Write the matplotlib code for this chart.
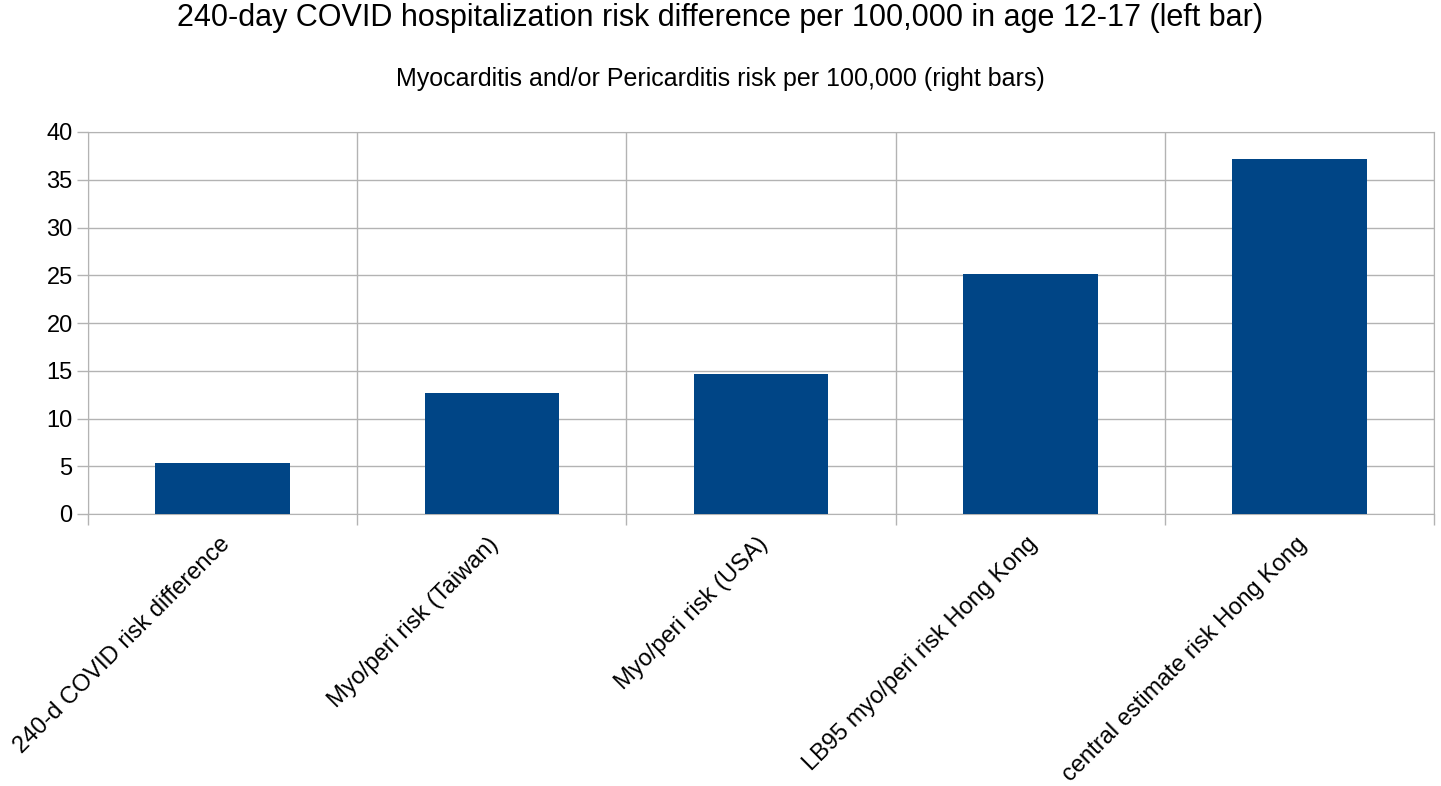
import matplotlib
matplotlib.use("Agg")
import matplotlib.pyplot as plt

categories = [
    "240-d COVID risk difference",
    "Myo/peri risk (Taiwan)",
    "Myo/peri risk (USA)",
    "LB95 myo/peri risk Hong Kong",
    "central estimate risk Hong Kong",
]
risk_per_100k = [5.3, 12.7, 14.7, 25.1, 37.2]
y_ticks = [0, 5, 10, 15, 20, 25, 30, 35, 40]

plt.rcParams["font.family"] = ["Liberation Sans", "DejaVu Sans"]

fig = plt.figure(figsize=(14.41, 7.86), dpi=100)
ax = fig.add_axes([88 / 1441, 1 - 514 / 786, (1434 - 88) / 1441, (514 - 132) / 786])

x = list(range(len(categories)))
ax.bar(x, risk_per_100k, width=0.5, color="#004586", zorder=3)

ax.set_xlim(-0.5, len(categories) - 0.5)
ax.set_ylim(0, 40)
ax.set_yticks(y_ticks)
ax.set_yticklabels([str(t) for t in y_ticks], fontsize=17)

# grid lines between categories, like the spreadsheet original
bounds = [i - 0.5 for i in range(len(categories) + 1)]
ax.set_xticks(bounds)
ax.set_xticklabels([""] * len(bounds))
ax.tick_params(axis="x", length=8, color="#b3b3b3", width=1)
ax.tick_params(axis="y", length=8, color="#b3b3b3", width=1, pad=3)
ax.grid(True, color="#b3b3b3", linewidth=1, zorder=0)

for xi, label in zip(x, categories):
    ax.text(xi - 0.015, -2.0, label, rotation=45, ha="right", va="top",
            rotation_mode="anchor", fontsize=17)

for side in ["top", "right", "left", "bottom"]:
    ax.spines[side].set_color("#b3b3b3")

fig.text(0.5, 1 - 18 / 786, "240-day COVID hospitalization risk difference per 100,000 in age 12-17 (left bar)",
         ha="center", va="center", fontsize=22)
fig.text(0.5, 1 - 79 / 786, "Myocarditis and/or Pericarditis risk per 100,000 (right bars)",
         ha="center", va="center", fontsize=18)

fig.savefig("out.png", dpi=100)
